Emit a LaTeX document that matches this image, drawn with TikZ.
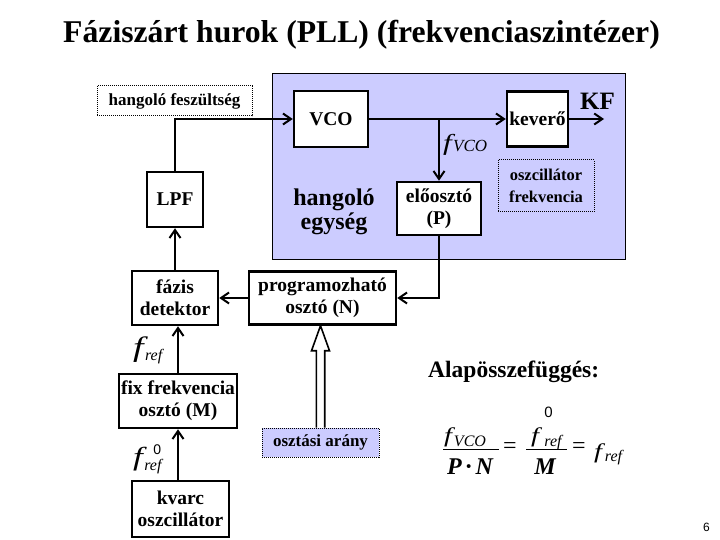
\documentclass[tikz,border=0pt]{standalone}
\usepackage{fontspec}
\usepackage{graphicx}
\setmainfont{Liberation Serif}
\setsansfont{Liberation Sans}
\usetikzlibrary{arrows.meta,calc}
\definecolor{regionblue}{HTML}{CCCCFF}
\newcommand{\fbig}[1]{\scalebox{1.35}[1]{\fontsize{#1}{#1}\selectfont\itshape f}}
\newcommand{\subf}[1]{\fontsize{#1}{#1}\selectfont\itshape}
\newcommand{\zerof}[1]{\sffamily\fontsize{#1}{#1}\selectfont}
\begin{document}
\begin{tikzpicture}[x=1pt,y=-1pt,
  box/.style={draw, line width=2.5pt, fill=white, align=center, inner sep=0pt,
    font=\fontsize{19.5}{22}\selectfont\bfseries},
  dotbox/.style={draw, line width=1pt, dash pattern=on 1pt off 1pt, align=center, inner sep=0pt,
    font=\fontsize{17}{22}\selectfont\bfseries},
  conn/.style={line width=2pt, -{Straight Barb[length=8pt,width=11pt]}},
  hollow/.style={line width=1.6pt, fill=white, line join=miter},
  txt/.style={inner sep=0pt},
  bw/.style={txt, anchor=base west},
  bar/.style={line width=1.3pt}]
\useasboundingbox (0,0) rectangle (720,540);
\fill[white] (0,0) rectangle (720,540);

% title
\node[txt, anchor=base] (title) at (361.5,43)
  {\fontsize{31.7}{36}\selectfont\bfseries Fáziszárt hurok (PLL) (frekvenciaszintézer)};

% tuning unit region
\filldraw[fill=regionblue, draw=black, line width=0.8pt] (272,73) rectangle (625,259);
\node[txt, align=center, font=\fontsize{24}{24.5}\selectfont\bfseries] (hegy) at (334,212)
  {hangoló\\egység};

% blocks
\node[box, minimum width=74, minimum height=56] (vco) at (331,119) {VCO};
\node[box, minimum width=61, minimum height=55] (kev) at (537.5,119) {keverő};
\node[box, minimum width=56, minimum height=55] (lpf) at (175,199.5) {LPF};
\node[box, minimum width=84, minimum height=53] (elo) at (439,208.5) {előosztó\\(P)};
\node[box, minimum width=86, minimum height=54] (faz) at (175,298) {fázis\\detektor};
\node[box, minimum width=147, minimum height=53] (prog) at (322.5,298) {programozható\\osztó (N)};
\node[box, minimum width=118, minimum height=54] (fix) at (178,401) {fix frekvencia\\osztó (M)};
\node[box, minimum width=97, minimum height=56] (kvarc) at (180.5,509) {kvarc\\oszcillátor};

% dotted labels
\node[dotbox, minimum width=155, minimum height=30] (hf) at (174.5,101) {hangoló feszültség};
\node[dotbox, minimum width=96, minimum height=52, font=\fontsize{16.5}{22}\selectfont\bfseries] (osc) at (546,186) {oszcillátor\\frekvencia};
\node[dotbox, fill=regionblue, minimum width=117, minimum height=29] (arany) at (320.5,442.5) {osztási arány};

% connectors
\coordinate (kfout) at (604,119);
\draw[conn] (lpf.north) |- (vco.west);
\draw[conn] (vco.east) -- (kev.west);
\draw[conn] (elo.north |- vco.east) -- (elo.north);
\draw[conn] (kev.east) -- (kfout);
\draw[conn] (elo.south) |- (prog.east);
\draw[conn] (prog.west) -- (faz.east);
\draw[conn] (faz.north) -- (lpf.south);
\draw[conn] (fix.north) -- (fix.north |- faz.south);
\draw[conn] (fix.south |- kvarc.north) -- (fix.south);

% hollow arrow
\coordinate (tip) at (prog.south -| arany.north);
\filldraw[hollow] ($(arany.north)+(-4.2,0)$) -- ($(tip)+(-4.2,25)$) -- ($(tip)+(-9,25)$)
  -- (tip) -- ($(tip)+(9,25)$) -- ($(tip)+(4.2,25)$) -- ($(arany.north)+(4.2,0)$);

% labels
\node[bw, font=\fontsize{25}{26}\selectfont\bfseries] (kf) at (580,110) {KF};

\node[bw] (fvcof) at (443,151) {\fbig{23}};
\node[bw] (fvcos) at ($(fvcof.base east)+(1,1)$) {\subf{17}VCO};

\node[bw] (freff) at (133,356) {\fbig{28}};
\node[bw] (frefs) at ($(freff.base east)+(1,4)$) {\subf{16}ref};

\node[bw] (fzf) at (133,465) {\fbig{26}};
\node[bw] (fzs) at ($(fzf.base east)+(1,5)$) {\subf{16}ref};
\node[bw] (fzz) at ($(fzs.base west)+(9,-16)$) {\zerof{14}0};

\node[bw, font=\fontsize{23.5}{26}\selectfont\bfseries] (alap) at (428,377) {Alapösszefüggés:};

% formula
\node[bw] (n1f) at (444,442.5) {\fbig{21}};
\node[bw] (n1s) at ($(n1f.base east)+(1.5,4)$) {\subf{16}VCO};
\draw[bar] (443,449.5) -- (499,449.5);
\node[txt, anchor=base] (den1) at (470,474) {\fontsize{24}{26}\selectfont\bfseries\itshape P\,·\,N};
\node[txt, font=\fontsize{24}{26}\selectfont] (eq1) at (510,448) {=};
\node[bw] (n2f) at (531,442.5) {\fbig{21}};
\node[bw] (n2s) at ($(n2f.base east)+(5,4)$) {\subf{16}ref};
\node[bw] (n2z) at ($(n2s.base west)+(0,-29)$) {\zerof{15}0};
\draw[bar] (526,449.5) -- (567,449.5);
\node[txt, anchor=base] (den2) at (545,474) {\fontsize{24}{26}\selectfont\bfseries\itshape M};
\node[txt, font=\fontsize{24}{26}\selectfont] (eq2) at (579,448) {=};
\node[bw] (rf) at (594,458) {\fbig{21}};
\node[bw] (rs) at ($(rf.base east)+(2.5,3)$) {\subf{16}ref};

\node[txt, anchor=base east, font=\sffamily\fontsize{12}{14}\selectfont] (pg) at (710,531) {6};
\end{tikzpicture}
\end{document}
